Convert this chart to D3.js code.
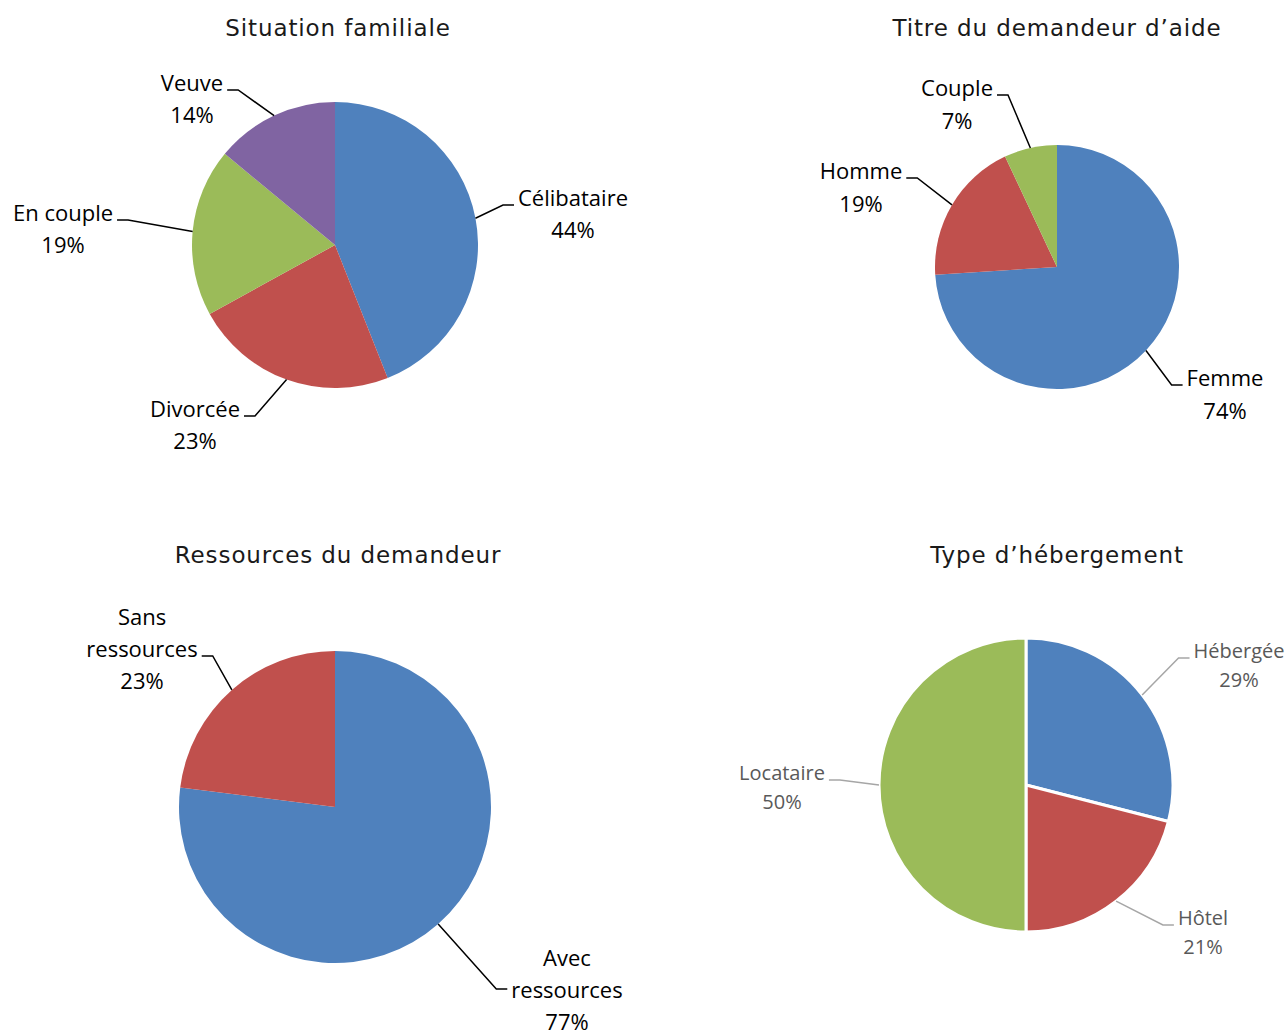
<!DOCTYPE html>
<html><head><meta charset="utf-8">
<script src="https://cdn.jsdelivr.net/npm/d3@7"></script>
<style>body{margin:0;background:#fff}svg{display:block}</style>
</head><body>
<svg id="c" width="1288" height="1030"></svg>
<script>
// ---- data ----
const titles = ["Situation familiale", "Titre du demandeur d\u2019aide", "Ressources du demandeur", "Type d\u2019h\u00e9bergement"];
const famLabels = ["C\u00e9libataire", "Divorc\u00e9e", "En couple", "Veuve"];
const famValues = [44, 23, 19, 14];
const titreLabels = ["Femme", "Homme", "Couple"];
const titreValues = [74, 19, 7];
const ressLabels = ["Avec\nressources", "Sans\nressources"];
const ressValues = [77, 23];
const hebLabels = ["H\u00e9berg\u00e9e", "H\u00f4tel", "Locataire"];
const hebValues = [29, 21, 50];
const sliceColors = ["#4F81BD", "#C0504D", "#9BBB59", "#8064A2"];

// ---- layout ----
const charts = [
  {title: titles[0], labels: famLabels, values: famValues, cx: 335, cy: 245, r: 143, tx: 338, ty: 28,
   font: 22, lh: 32, text: "#000", line: "#000", stroke: "none", sw: 0,
   lab: [{dx: 238, dy: -48, side: "L", sl: 0}, {dx: -140, dy: 163, side: "R", sl: 0},
         {dx: -272, dy: -33, side: "R", sl: 0}, {dx: -143, dy: -163, side: "R", sl: 0}]},
  {title: titles[1], labels: titreLabels, values: titreValues, cx: 1057, cy: 267, r: 122, tx: 1057, ty: 28,
   font: 22, lh: 33, text: "#000", line: "#000", stroke: "none", sw: 0,
   lab: [{dx: 168, dy: 110, side: "L", sl: 0}, {dx: -196, dy: -97, side: "R", sl: 0},
         {dx: -100, dy: -180, side: "R", sl: 0}]},
  {title: titles[2], labels: ressLabels, values: ressValues, cx: 335, cy: 807, r: 156, tx: 338, ty: 555,
   font: 22, lh: 32, text: "#000", line: "#000", stroke: "none", sw: 0,
   lab: [{dx: 232, dy: 150, side: "L", sl: 1, off: 0}, {dx: -193, dy: -191, side: "R", sl: 1, off: 8}]},
  {title: titles[3], labels: hebLabels, values: hebValues, cx: 1026, cy: 785, r: 147, tx: 1057, ty: 555,
   font: 20, lh: 29, text: "#595959", line: "#A6A6A6", stroke: "#fff", sw: 3,
   lab: [{dx: 213, dy: -135, side: "L", sl: 0}, {dx: 177, dy: 132, side: "L", sl: 0},
         {dx: -244, dy: -13, side: "R", sl: 0}]}
];

const svg = d3.select("#c");
const pie = d3.pie().sort(null).value(d => d.v);

charts.forEach(ch => {
  const data = ch.labels.map((l, i) => ({l, v: ch.values[i], i}));
  const arcs = pie(data);
  const arc = d3.arc().innerRadius(0).outerRadius(ch.r);

  svg.append("text").attr("x", ch.tx).attr("y", ch.ty).attr("text-anchor", "middle")
    .attr("dominant-baseline", "central")
    .style("font-family", "'DejaVu Sans', sans-serif").style("font-size", "23px")
    .style("letter-spacing", "0.9px").attr("fill", "#1a1a1a").text(ch.title);

  const g = svg.append("g").attr("transform", `translate(${ch.cx},${ch.cy})`);
  g.selectAll("path.s").data(arcs).join("path").attr("class", "s")
    .attr("d", arc).attr("fill", d => sliceColors[d.index])
    .attr("stroke", ch.stroke).attr("stroke-width", ch.sw).attr("stroke-linejoin", "round");

  arcs.forEach((a, i) => {
    const L = ch.lab[i];
    const lines = a.data.l.split("\n").concat([a.data.v + "%"]);
    const t = g.append("text").attr("text-anchor", "middle")
      .style("font-family", "'Open Sans', Lato, sans-serif").style("font-size", ch.font + "px")
      .attr("fill", ch.text);
    const spans = lines.map((s, k) => t.append("tspan").attr("x", L.dx)
      .attr("y", L.dy + k * ch.lh).attr("dominant-baseline", "central").text(s));
    const w = spans[L.sl].node().getComputedTextLength();
    const sy = L.dy + L.sl * ch.lh + (L.off !== undefined ? L.off : 8);
    const gap = 4, stub = 11;
    const sx0 = L.side === "R" ? L.dx + w / 2 + gap : L.dx - w / 2 - gap;
    const sx1 = L.side === "R" ? sx0 + stub : sx0 - stub;
    const mid = (a.startAngle + a.endAngle) / 2;
    const ex = Math.sin(mid) * ch.r, ey = -Math.cos(mid) * ch.r;
    g.append("path").attr("d", d3.line()([[sx0, sy], [sx1, sy], [ex, ey]]))
      .attr("fill", "none").attr("stroke", ch.line).attr("stroke-width", 1.5);
  });
});
</script>
</body></html>
